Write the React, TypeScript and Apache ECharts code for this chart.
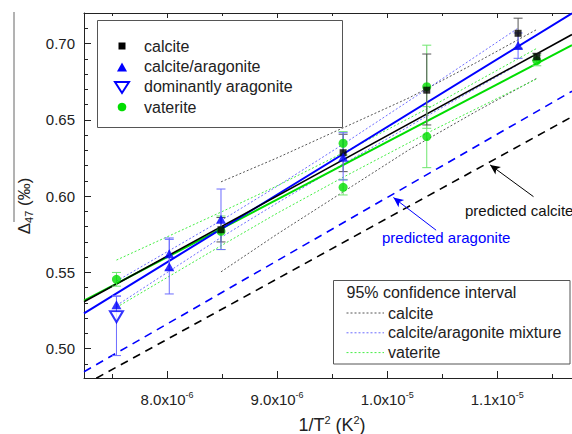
import React, { useEffect, useRef } from "react";
import * as echarts from "echarts";

const FONT = "'Liberation Sans', Arial, Helvetica, sans-serif";

// x values are 1/T^2 in units of 1e-6 K^-2
const xRange = [7.245, 11.68];
const yRange = [0.4808, 0.7201];
const xMajorTicks = [8, 9, 10, 11];
const xMinorTicks = [7.5, 8.5, 9.5, 10.5, 11.5];
const yMajorTicks = [0.5, 0.55, 0.6, 0.65, 0.7];
const yMinorTicks = [0.49, 0.51, 0.52, 0.53, 0.54, 0.56, 0.57, 0.58, 0.59, 0.61, 0.62, 0.63, 0.64, 0.66, 0.67, 0.68, 0.69, 0.71];

// measured points with error bars
const calciteX = [8.49, 9.6, 10.36, 11.19, 11.36];
const calciteY = [0.578, 0.6285, 0.6695, 0.7068, 0.6915];
const calciteLo = [0.570, 0.6161, 0.6467, 0.697, 0.689];
const calciteHi = [0.586, 0.6406, 0.6932, 0.7167, 0.6937];

const mixX = [7.54, 8.02, 8.02, 8.49, 9.6, 11.19];
const mixY = [0.5288, 0.5622, 0.5538, 0.5848, 0.6255, 0.6988];
const mixLo = [0.524, 0.5516, 0.5359, 0.565, 0.6106, 0.6904];
const mixHi = [0.5345, 0.5726, 0.5717, 0.6047, 0.6416, 0.707];

const aragX = [7.54];
const aragY = [0.521];
const aragLo = [0.4955];
const aragHi = [0.5345];

const vatX = [7.54, 8.49, 9.6, 9.6, 10.36, 10.36, 11.36];
const vatY = [0.5455, 0.577, 0.6347, 0.6058, 0.6718, 0.6391, 0.6889];
const vatLo = [0.541, 0.565, 0.627, 0.6008, 0.6445, 0.6187, 0.6855];
const vatHi = [0.55, 0.587, 0.6423, 0.611, 0.699, 0.6587, 0.6925];

// regression lines (end points across the plot)
const fitX = [7.245, 11.68];
const calciteFit = [0.5308, 0.706];
const mixFit = [0.5232, 0.7199];
const vatFit = [0.5315, 0.699];
const predCalcite = [0.4762, 0.6521];
const predArag = [0.4849, 0.6688];

// 95% confidence bands
const calciteCIX = [8.49, 9.0, 9.6, 10.2, 10.8, 11.36];
const calciteCIUp = [0.6094, 0.6251, 0.6448, 0.6645, 0.6872, 0.7093];
const calciteCILo = [0.5504, 0.5751, 0.6028, 0.6305, 0.6552, 0.6773];
const mixCIX = [7.54, 8.5, 9.0, 9.6, 10.4, 11.19];
const mixCIUp = [0.5443, 0.5844, 0.6065, 0.6341, 0.6721, 0.7102];
const mixCILo = [0.5283, 0.5734, 0.5955, 0.6211, 0.6541, 0.6862];
const vatCIX = [7.54, 8.5, 9.0, 9.6, 10.4, 11.36];
const vatCIUp = [0.5581, 0.5899, 0.6068, 0.6284, 0.6587, 0.6969];
const vatCILo = [0.5271, 0.5679, 0.5888, 0.6124, 0.6427, 0.6769];

// annotation arrows (tail -> head)
const arrowCalcite = [[11.33, 0.5997], [10.936, 0.6205]];
const arrowArag = [[10.445, 0.5777], [10.057, 0.5991]];

const BLACK = "#000000";
const BLUE = "#0000ff";
const GREEN = "#00dd00";

const zip = (xs: number[], ys: number[]) => xs.map((x, i) => [x, ys[i]]);

const errorSeries = (name: string, xs: number[], lo: number[], hi: number[], color: string) => ({
  type: "custom",
  name,
  z: 3,
  silent: true,
  data: xs.map((x, i) => [x, lo[i], hi[i]]),
  encode: { x: 0, y: [1, 2] },
  renderItem: (_p: any, api: any) => {
    const x = api.value(0);
    const a = api.coord([x, api.value(1)]);
    const b = api.coord([x, api.value(2)]);
    const w = 4.5;
    const st = { stroke: color, lineWidth: 1 };
    return {
      type: "group",
      children: [
        { type: "line", shape: { x1: a[0], y1: a[1], x2: b[0], y2: b[1] }, style: st },
        { type: "line", shape: { x1: a[0] - w, y1: a[1], x2: a[0] + w, y2: a[1] }, style: st },
        { type: "line", shape: { x1: b[0] - w, y1: b[1], x2: b[0] + w, y2: b[1] }, style: st },
      ],
    };
  },
});

const lineSeries = (name: string, xs: number[], ys: number[], color: string, width: number, type: any, z: number, extra: any = {}) => ({
  type: "line",
  name,
  data: zip(xs, ys),
  showSymbol: false,
  symbol: "none",
  silent: true,
  z,
  lineStyle: { color, width, type },
  ...extra,
});

const arrowMark = (pts: number[][], color: string) => ({
  silent: true,
  symbol: ["none", "arrow"],
  symbolSize: [7, 10],
  label: { show: false },
  lineStyle: { color, width: 1, type: "solid" },
  data: [[{ coord: pts[0] }, { coord: pts[1] }]],
});

const xLabel = (v: number) =>
  v >= 10 ? `{a|${(v / 10).toFixed(1)}x10}{s|-5}` : `{a|${v.toFixed(1)}x10}{s|-6}`;

const axisCommon = {
  type: "value",
  splitLine: { show: false },
};

export default function App() {
  const ref = useRef<HTMLDivElement>(null);
  useEffect(() => {
    if (!ref.current) return;
    const chart = echarts.init(ref.current, undefined, { renderer: "svg" });
    const axisLineStyle = { color: "#222", width: 1 };
    const xBase = { ...axisCommon, min: xRange[0], max: xRange[1] };
    const yBase = { ...axisCommon, min: yRange[0], max: yRange[1] };
    const option: any = {
      animation: false,
      backgroundColor: "#fff",
      textStyle: { fontFamily: FONT },
      grid: { left: 84, right: 0, top: 13, bottom: 56, containLabel: false, outerBoundsMode: "none" },
      xAxis: [
        {
          ...xBase,
          position: "bottom",
          axisLine: { show: true, lineStyle: axisLineStyle },
          axisTick: { show: true, inside: true, length: 7, customValues: xMajorTicks, lineStyle: axisLineStyle },
          axisLabel: {
            show: true,
            customValues: xMajorTicks,
            margin: 12,
            formatter: xLabel,
            rich: {
              a: { fontSize: 15, fontFamily: FONT, color: "#222", lineHeight: 18 },
              s: { fontSize: 9, fontFamily: FONT, color: "#222", lineHeight: 10, verticalAlign: "top" },
            },
          },
          name: "{a|1/T}{s|2}{a| (K}{s|2}{a|)}",
          nameLocation: "middle",
          nameGap: 36,
          nameTextStyle: {
            padding: [0, 0, 0, 8],
            rich: {
              a: { fontSize: 18, fontFamily: FONT, color: "#222", lineHeight: 21 },
              s: { fontSize: 11, fontFamily: FONT, color: "#222", lineHeight: 12, verticalAlign: "top" },
            },
          },
        },
        {
          ...xBase,
          position: "bottom",
          axisLine: { show: false },
          axisTick: { show: true, inside: true, length: 4, customValues: xMinorTicks, lineStyle: axisLineStyle },
          axisLabel: { show: false },
        },
        {
          ...xBase,
          position: "top",
          axisLine: { show: true, lineStyle: axisLineStyle },
          axisTick: { show: true, inside: true, length: 5, customValues: xMajorTicks, lineStyle: axisLineStyle },
          axisLabel: { show: false },
        },
        {
          ...xBase,
          position: "top",
          axisLine: { show: false },
          axisTick: { show: true, inside: true, length: 3, customValues: xMinorTicks, lineStyle: axisLineStyle },
          axisLabel: { show: false },
        },
      ],
      yAxis: [
        {
          ...yBase,
          position: "left",
          axisLine: { show: true, lineStyle: axisLineStyle },
          axisTick: { show: true, inside: true, length: 7, customValues: yMajorTicks, lineStyle: axisLineStyle },
          axisLabel: {
            show: true,
            customValues: yMajorTicks,
            margin: 9,
            fontSize: 15,
            fontFamily: FONT,
            color: "#222",
            formatter: (v: number) => v.toFixed(2),
          },
        },
        {
          ...yBase,
          position: "left",
          axisLine: { show: false },
          axisTick: { show: true, inside: true, length: 4, customValues: yMinorTicks, lineStyle: axisLineStyle },
          axisLabel: { show: false },
        },
      ],
      series: [
        lineSeries("calcite CI upper", calciteCIX, calciteCIUp, "#555", 1, [2, 2], 1),
        lineSeries("calcite CI lower", calciteCIX, calciteCILo, "#555", 1, [2, 2], 1),
        lineSeries("mixture CI upper", mixCIX, mixCIUp, "#6c6cff", 1, [2, 2], 1),
        lineSeries("mixture CI lower", mixCIX, mixCILo, "#6c6cff", 1, [2, 2], 1),
        lineSeries("vaterite CI upper", vatCIX, vatCIUp, "#44ee44", 1, [2, 2], 1),
        lineSeries("vaterite CI lower", vatCIX, vatCILo, "#44ee44", 1, [2, 2], 1),
        lineSeries("predicted calcite", fitX, predCalcite, BLACK, 1.6, [8, 6], 2, {
          markLine: arrowMark(arrowCalcite, BLACK),
        }),
        lineSeries("predicted aragonite", fitX, predArag, BLUE, 1.6, [8, 6], 2, {
          markLine: arrowMark(arrowArag, BLUE),
        }),
        lineSeries("vaterite fit", fitX, vatFit, GREEN, 2, "solid", 2),
        lineSeries("calcite/aragonite fit", fitX, mixFit, BLUE, 2, "solid", 2),
        lineSeries("calcite fit", fitX, calciteFit, BLACK, 1.6, "solid", 2),
        errorSeries("vaterite err", vatX, vatLo, vatHi, "#6ee66e"),
        errorSeries("calcite err", calciteX, calciteLo, calciteHi, "#555"),
        errorSeries("calcite/aragonite err", mixX, mixLo, mixHi, "#6c6cff"),
        errorSeries("dominantly aragonite err", aragX, aragLo, aragHi, "#6c6cff"),
        {
          type: "scatter", name: "vaterite", z: 5, silent: true,
          symbol: "circle", symbolSize: 9, itemStyle: { color: GREEN },
          data: zip(vatX, vatY),
        },
        {
          type: "scatter", name: "calcite", z: 5, silent: true,
          symbol: "rect", symbolSize: 7, itemStyle: { color: "#000" },
          data: zip(calciteX, calciteY),
        },
        {
          type: "scatter", name: "calcite/aragonite", z: 5, silent: true,
          symbol: "triangle", symbolSize: [10, 9], itemStyle: { color: BLUE },
          data: zip(mixX, mixY),
        },
        {
          type: "scatter", name: "dominantly aragonite", z: 5, silent: true,
          symbol: "triangle", symbolRotate: 180, symbolSize: [13, 11],
          itemStyle: { color: "#fff", borderColor: BLUE, borderWidth: 2 },
          data: zip(aragX, aragY),
        },
      ],
      graphic: [
        // y axis title
        {
          type: "text", x: 24, y: 206, rotation: Math.PI / 2, z: 10,
          style: {
            text: "{d|Δ}{s|47}{d| (‰)}",
            align: "center", verticalAlign: "middle",
            rich: {
              d: { fontSize: 17, fontFamily: FONT, fill: "#222", lineHeight: 20 },
              s: { fontSize: 11, fontFamily: FONT, fill: "#222", lineHeight: 12, verticalAlign: "bottom" },
            },
          },
        },
        { type: "line", z: 10, shape: { x1: 14, y1: 12, x2: 14, y2: 222 }, style: { stroke: "#666", lineWidth: 1 } },
        // marker legend
        { type: "rect", z: 20, shape: { x: 97.5, y: 20.5, width: 245, height: 107 }, style: { fill: "#fff", stroke: "#555", lineWidth: 1 } },
        { type: "rect", z: 21, shape: { x: 118.5, y: 42.5, width: 7, height: 7 }, style: { fill: "#000" } },
        { type: "polygon", z: 21, shape: { points: [[122, 62.5], [117, 71.5], [127, 71.5]] }, style: { fill: BLUE } },
        { type: "polygon", z: 21, shape: { points: [[115, 82], [129, 82], [122, 93]] }, style: { fill: "#fff", stroke: BLUE, lineWidth: 2 } },
        { type: "circle", z: 21, shape: { cx: 122, cy: 107, r: 4.3 }, style: { fill: GREEN } },
        ...["calcite", "calcite/aragonite", "dominantly aragonite", "vaterite"].map((t, i) => ({
          type: "text", z: 21, x: 144, y: 46 + i * 20.4,
          style: { text: t, fontSize: 16, fontFamily: FONT, fill: "#222", align: "left", verticalAlign: "middle" },
        })),
        // confidence interval legend
        { type: "rect", z: 20, shape: { x: 333.5, y: 280.5, width: 236.5, height: 83.5 }, style: { fill: "#fff", stroke: "#555", lineWidth: 1 } },
        {
          type: "text", z: 21, x: 346.5, y: 292,
          style: { text: "95% confidence interval", fontSize: 16, fontFamily: FONT, fill: "#222", align: "left", verticalAlign: "middle" },
        },
        ...[
          ["calcite", "#555"],
          ["calcite/aragonite mixture", "#6c6cff"],
          ["vaterite", "#44ee44"],
        ].flatMap(([t, c], i) => [
          {
            type: "line", z: 21,
            shape: { x1: 346.5, y1: 313 + i * 19.8, x2: 384, y2: 313 + i * 19.8 },
            style: { stroke: c, lineWidth: 1, lineDash: [2, 2] },
          },
          {
            type: "text", z: 21, x: 388, y: 313 + i * 19.8,
            style: { text: t, fontSize: 16, fontFamily: FONT, fill: "#222", align: "left", verticalAlign: "middle" },
          },
        ]),
        // annotations
        {
          type: "text", z: 21, x: 465, y: 210,
          style: { text: "predicted calcite", fontSize: 15, fontFamily: FONT, fill: "#111", align: "left", verticalAlign: "middle" },
        },
        {
          type: "text", z: 21, x: 382, y: 237,
          style: { text: "predicted aragonite", fontSize: 15, fontFamily: FONT, fill: BLUE, align: "left", verticalAlign: "middle" },
        },
      ],
    };
    chart.setOption(option);
    return () => chart.dispose();
  }, []);
  return (
    <div
      ref={ref}
      style={{ position: "absolute", left: 0, top: 0, width: 572, height: 434, background: "#fff" }}
    />
  );
}
